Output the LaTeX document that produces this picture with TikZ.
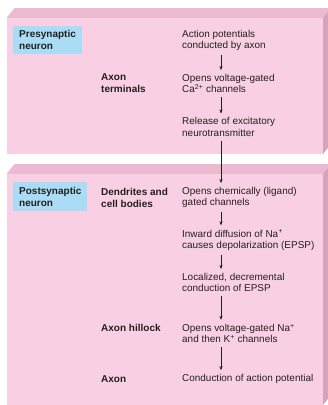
\documentclass[tikz,border=0pt]{standalone}
\usepackage{fontspec}
\setmainfont{Liberation Sans}
\usetikzlibrary{arrows.meta}

\definecolor{facepink}{RGB}{249,208,227}
\definecolor{toppink}{RGB}{236,186,208}
\definecolor{sidepink}{RGB}{215,162,189}
\definecolor{labelblue}{RGB}{170,221,245}
\definecolor{inkgray}{RGB}{35,31,32}

\tikzset{
  stage/.style={anchor=west, align=left, inner sep=0pt, text=inkgray},
  site/.style={anchor=west, align=left, inner sep=0pt, text=inkgray, font=\bfseries},
  tag/.style={anchor=west, align=left, fill=labelblue, inner xsep=6pt, minimum height=28.5pt, text=inkgray, font=\bfseries},
  flow/.style={-{Stealth[length=4pt,width=3.2pt]}, draw=inkgray, line width=0.55pt, shorten <=4pt, shorten >=4pt}
}

\begin{document}
\begin{tikzpicture}[x=1pt,y=-1pt,font=\fontsize{9.95}{11.3}\selectfont]
\useasboundingbox (0,0) rectangle (328,405);

\begin{scope}
\clip (0,0) rectangle (328,405);
\fill[toppink] (6.5,18) -- (14.5,8) -- (331,8) -- (323,18) -- cycle;
\fill[sidepink] (323,18) -- (331,8) -- (331,144) -- (323,154) -- cycle;
\fill[facepink] (6.5,18) rectangle (323,154);

\fill[toppink] (6.5,174) -- (14.5,164) -- (331,164) -- (323,174) -- cycle;
\fill[sidepink] (323,174) -- (331,164) -- (331,395) -- (323,405) -- cycle;
\fill[facepink] (6.5,174) rectangle (323,405);
\end{scope}

\node[tag] (pre) at (13,40) {Presynaptic\\neuron};
\node[site] (term) at (101,83.5) {Axon\\terminals};

\node[stage] (act) at (182,40.5) {Action potentials\\conducted by axon};
\node[stage] (ca) at (182,83.5) {Opens voltage-gated\\Ca\textsuperscript{2+} channels};
\node[stage] (rel) at (182,127) {Release of excitatory\\neurotransmitter};

\node[tag] (post) at (13,196.5) {Postsynaptic\\neuron};
\node[site] (dend) at (101,197.5) {Dendrites and\\cell bodies};
\node[site] (hill) at (101,328) {Axon hillock};
\node[site] (axon) at (101,379) {Axon};

\node[stage] (chem) at (182,197.5) {Opens chemically (ligand)\\gated channels};
\node[stage] (na) at (182,240) {Inward diffusion of Na\textsuperscript{+}\\causes depolarization (EPSP)};
\node[stage] (loc) at (182,282.5) {Localized, decremental\\conduction of EPSP};
\node[stage] (open) at (182,333.5) {Opens voltage-gated Na\textsuperscript{+}\\and then K\textsuperscript{+} channels};
\node[stage] (cond) at (182,379) {Conduction of action potential};

\coordinate (spine) at (221,0);

\draw[flow] (act.south -| spine) -- (ca.north -| spine);
\draw[flow] (ca.south -| spine) -- (rel.north -| spine);
\draw[flow] (rel.south -| spine) -- (chem.north -| spine);
\draw[flow] (chem.south -| spine) -- (na.north -| spine);
\draw[flow] (na.south -| spine) -- (loc.north -| spine);
\draw[flow] (loc.south -| spine) -- (open.north -| spine);
\draw[flow] (open.south -| spine) -- (cond.north -| spine);

\end{tikzpicture}
\end{document}
